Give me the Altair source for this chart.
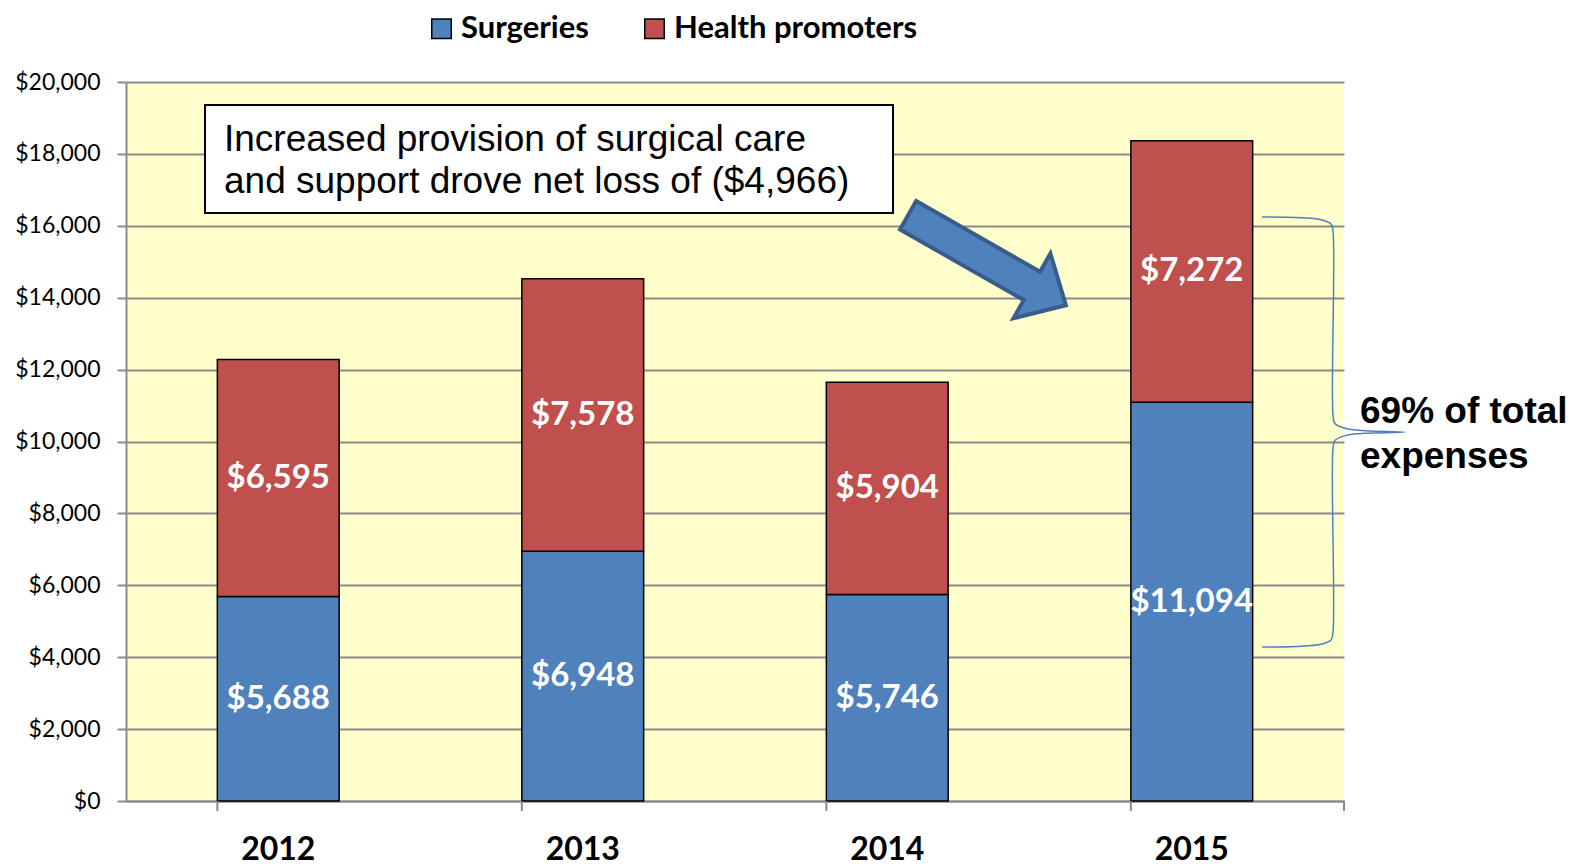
import altair as alt
import pandas as pd

# ---------------- data ----------------
years = ["2012", "2013", "2014", "2015"]
surgeries = [5688, 6948, 5746, 11094]
health_promoters = [6595, 7578, 5904, 7272]
series_names = ["Surgeries", "Health promoters"]
series_colors = ["#4F81BD", "#C0504D"]
y_ticks = [0, 2000, 4000, 6000, 8000, 10000, 12000, 14000, 16000, 18000, 20000]

box_text = ["Increased provision of surgical care", "and support drove net loss of ($4,966)"]
box_text_y = [18080, 16912]
box_y = [19360, 16356]
note_text = ["69% of total", "expenses"]
note_y = [10513, 9260]
arrow_y = [15042]
brace_y = [16244, 16230, 16170, 16050, 15850, 10750, 10500, 10360, 10290, 10263,
           10236, 10170, 10030, 9800, 4700, 4480, 4360, 4300, 4282]
brace_x = [1136, 1170, 1195, 1205, 1207, 1207, 1209, 1220, 1245, 1279,
           1245, 1220, 1209, 1207, 1207, 1205, 1195, 1170, 1136]

W, H = 1218, 719
GRID = "#8a8a8a"

rows = []
for i, yr in enumerate(years):
    rows.append({"year": yr, "series": series_names[0], "ord": 0, "value": surgeries[i]})
    rows.append({"year": yr, "series": series_names[1], "ord": 1, "value": health_promoters[i]})
df = pd.DataFrame(rows)
df["label"] = df["value"].map(lambda v: f"${v:,}")

xscale = alt.Scale(domain=years, paddingInner=0.6, paddingOuter=0.3)
yscale = alt.Scale(domain=[0, 20000], nice=False, zero=True)

bars = alt.Chart(df).mark_bar(stroke="black", strokeWidth=1.5).encode(
    x=alt.X("year:N", scale=xscale, title=None,
            axis=alt.Axis(ticks=False, tickSize=0, labelPadding=48, labelFont="Lato",
                          labelFontWeight="bold", labelFontSize=32, labelColor="black",
                          labelAngle=0, labelBaseline="middle",
                          domainColor=GRID, domainWidth=2)),
    y=alt.Y("value:Q", stack="zero", scale=yscale, title=None,
            axis=alt.Axis(values=y_ticks, format="$,d", labelFont="Lato", labelFontSize=23,
                          labelColor="black", labelPadding=17, tickSize=9, tickColor=GRID,
                          tickWidth=2, domainColor=GRID, domainWidth=2, grid=True,
                          gridColor=GRID, gridWidth=2)),
    color=alt.Color("series:N", scale=alt.Scale(domain=series_names, range=series_colors),
                    legend=alt.Legend(title=None, orient="none", legendX=300, legendY=-69,
                                      direction="horizontal", symbolType="square",
                                      symbolSize=380, symbolStrokeColor="black",
                                      symbolStrokeWidth=1.5, labelFont="Lato",
                                      labelFontSize=31, labelFontWeight="bold",
                                      labelColor="black", labelOffset=4,
                                      columnPadding=50, padding=0, labelLimit=0)),
    order=alt.Order("ord:Q", sort="ascending"),
)

labels = alt.Chart(df).transform_stack(
    stack="value", groupby=["year"], as_=["v0", "v1"],
    sort=[alt.SortField("ord", order="ascending")]
).transform_calculate(
    mid="(datum.v0 + datum.v1) / 2"
).mark_text(font="Lato", fontWeight="bold", fontSize=33, color="white", baseline="middle").encode(
    x=alt.X("year:N", scale=xscale, axis=None),
    y=alt.Y("mid:Q", scale=yscale, title=None),
    text="label:N",
)

box = alt.Chart(pd.DataFrame({"y0": [box_y[0]], "y1": [box_y[1]]})).mark_rect(
    fill="white", stroke="black", strokeWidth=2
).encode(
    x=alt.value(79), x2=alt.value(767),
    y=alt.Y("y0:Q", scale=yscale, title=None), y2="y1:Q",
)

box_txt = alt.Chart(pd.DataFrame({"t": box_text, "y": box_text_y})).mark_text(
    font="Liberation Sans", fontSize=37, align="left", baseline="alphabetic", color="black"
).encode(
    x=alt.value(98), y=alt.Y("y:Q", scale=yscale, title=None), text="t:N",
)

ARROW = "M -1 -0.18 L 0.57 -0.18 L 0.57 -0.41 L 1 0 L 0.57 0.41 L 0.57 0.18 L -1 0.18 Z"
arrow = alt.Chart(pd.DataFrame({"y": arrow_y})).mark_point(
    shape=ARROW, filled=True, fill="#4F81BD", stroke="#385D8A", strokeWidth=4,
    size=33000, angle=29.7, opacity=1
).encode(
    x=alt.value(861), y=alt.Y("y:Q", scale=yscale, title=None),
)

brace = alt.Chart(pd.DataFrame({"bx": brace_x, "by": brace_y, "i": list(range(len(brace_x)))})).mark_line(
    color="#4F81BD", strokeWidth=1.5, interpolate="catmull-rom"
).encode(
    x=alt.X("bx:Q", scale=None, axis=None),
    y=alt.Y("by:Q", scale=yscale, title=None),
    order="i:Q",
)

note = alt.Chart(pd.DataFrame({"t": note_text, "y": note_y})).mark_text(
    font="Liberation Sans", fontWeight="bold", fontSize=37, align="left",
    baseline="alphabetic", color="black"
).encode(
    x=alt.value(1234), y=alt.Y("y:Q", scale=yscale, title=None), text="t:N",
)

xticks = alt.Chart(pd.DataFrame({"year": years})).mark_rule(color=GRID, strokeWidth=2).encode(
    x=alt.X("year:N", scale=xscale, bandPosition=0, axis=None),
    y=alt.value(H), y2=alt.value(H + 10),
)
xtick_end = alt.Chart(pd.DataFrame({"a": [0]})).mark_rule(color=GRID, strokeWidth=2).encode(
    x=alt.value(W), y=alt.value(H), y2=alt.value(H + 10),
)

chart = alt.layer(
    bars, labels, box, box_txt, arrow, brace, note, xticks, xtick_end
).resolve_scale(
    x="independent"
).properties(
    width=W, height=H,
    padding={"left": 118, "top": 74, "right": 238, "bottom": 66},
    autosize=alt.AutoSizeParams(type="none"),
).configure_view(
    fill="#FFFFCC", stroke=None
)

chart.save("out.html", embed_options={"renderer": "svg", "actions": False})
